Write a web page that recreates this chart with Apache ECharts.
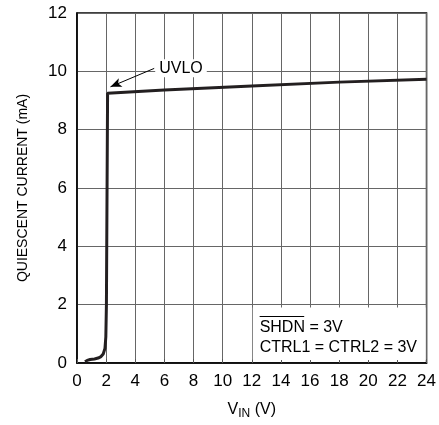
<!DOCTYPE html>
<html><head><meta charset="utf-8">
<script src="https://cdn.jsdelivr.net/npm/echarts@6/dist/echarts.min.js"></script>
<style>html,body{margin:0;padding:0;background:#fff}#c{width:439px;height:425px}</style>
</head><body><div id="c"></div>
<script>
// Data
const vin = [0.55, 0.7, 0.9, 1.2, 1.45, 1.65, 1.8, 1.92, 1.98, 2.02, 2.1, 6, 12, 18, 24];
const iq  = [0.04, 0.09, 0.12, 0.14, 0.17, 0.22, 0.31, 0.5, 0.9, 2.0, 9.25, 9.36, 9.5, 9.63, 9.73];
const xTicks = [0, 2, 4, 6, 8, 10, 12, 14, 16, 18, 20, 22, 24];
const yTicks = [0, 2, 4, 6, 8, 10, 12];
const uvloLabel = 'UVLO';
const uvloText = [7.14, 10.11];
const uvloArrowFrom = [5.3, 10.1];
const uvloArrowTo = [2.3, 9.47];
const noteLines = ['SHDN = 3V', 'CTRL1 = CTRL2 = 3V'];
const noteAt = [12.54, 0.86];
const overlineSpan = [12.54, 15.6];
const overlineY = 1.6;
const boxFrom = [12.07, 0.1];
const boxTo = [23.93, 1.9];

const FONT = "'Liberation Sans Narrow', 'Arial Narrow', 'Liberation Sans', sans-serif";
const chart = echarts.init(document.getElementById('c'));
chart.setOption({
  animation: false,
  grid: {left: 77, right: 10, top: 13, bottom: 61, show: true, borderColor: '#000', borderWidth: 1.5, backgroundColor: 'transparent'},
  xAxis: {
    type: 'value', min: xTicks[0], max: xTicks[xTicks.length - 1], interval: 2,
    axisLine: {show: true, lineStyle: {color: '#000', width: 1.5}},
    axisTick: {show: true, inside: true, length: 4, lineStyle: {color: '#555'}},
    splitLine: {show: true, lineStyle: {color: '#666', width: 1}},
    axisLabel: {color: '#000', fontSize: 17, fontFamily: FONT, margin: 10},
    name: '{v|V}{s|IN}{v| (V)}', nameLocation: 'middle', nameGap: 37,
    nameTextStyle: {rich: {
      v: {fontSize: 16, fontFamily: FONT, color: '#000'},
      s: {fontSize: 12, fontFamily: FONT, color: '#000', padding: [8, 0, 0, 0]}
    }}
  },
  yAxis: {
    type: 'value', min: yTicks[0], max: yTicks[yTicks.length - 1], interval: 2,
    axisLine: {show: true, lineStyle: {color: '#000', width: 1.5}},
    axisTick: {show: false},
    splitLine: {show: true, lineStyle: {color: '#666', width: 1}},
    axisLabel: {color: '#000', fontSize: 17, fontFamily: FONT, margin: 10},
    name: 'QUIESCENT CURRENT (mA)', nameLocation: 'middle', nameGap: 47,
    nameTextStyle: {fontSize: 14, fontFamily: FONT, color: '#000'}
  },
  series: [{
    type: 'line', data: vin.map((x, i) => [x, iq[i]]),
    showSymbol: false, symbol: 'none',
    lineStyle: {color: '#231f20', width: 3},
    z: 5,
    markArea: {
      silent: true,
      itemStyle: {color: '#fff', opacity: 1},
      data: [[{xAxis: boxFrom[0], yAxis: boxFrom[1]}, {xAxis: boxTo[0], yAxis: boxTo[1]}]]
    },
    markLine: {
      silent: true, animation: false,
      symbol: ['none', 'arrow'], symbolSize: [0, 9],
      label: {show: false},
      lineStyle: {color: '#000', width: 1, type: 'solid'},
      data: [
        [{coord: uvloArrowFrom, symbol: 'none'}, {coord: uvloArrowTo, symbol: 'arrow', symbolSize: [7, 11]}],
        [{coord: [overlineSpan[0], overlineY], symbol: 'none'}, {coord: [overlineSpan[1], overlineY], symbol: 'none'}]
      ]
    },
    markPoint: {
      silent: true, symbol: 'circle', symbolSize: 0,
      data: [
        {coord: uvloText, label: {show: true, formatter: uvloLabel, position: 'inside', color: '#000', fontSize: 16, fontFamily: FONT, backgroundColor: '#fff', padding: [1, 4]}},
        {coord: noteAt, label: {show: true, formatter: noteLines.join('\n'), position: 'inside', align: 'left', verticalAlign: 'middle', color: '#000', fontSize: 16, lineHeight: 20, fontFamily: FONT}}
      ]
    }
  }]
});
</script></body></html>
